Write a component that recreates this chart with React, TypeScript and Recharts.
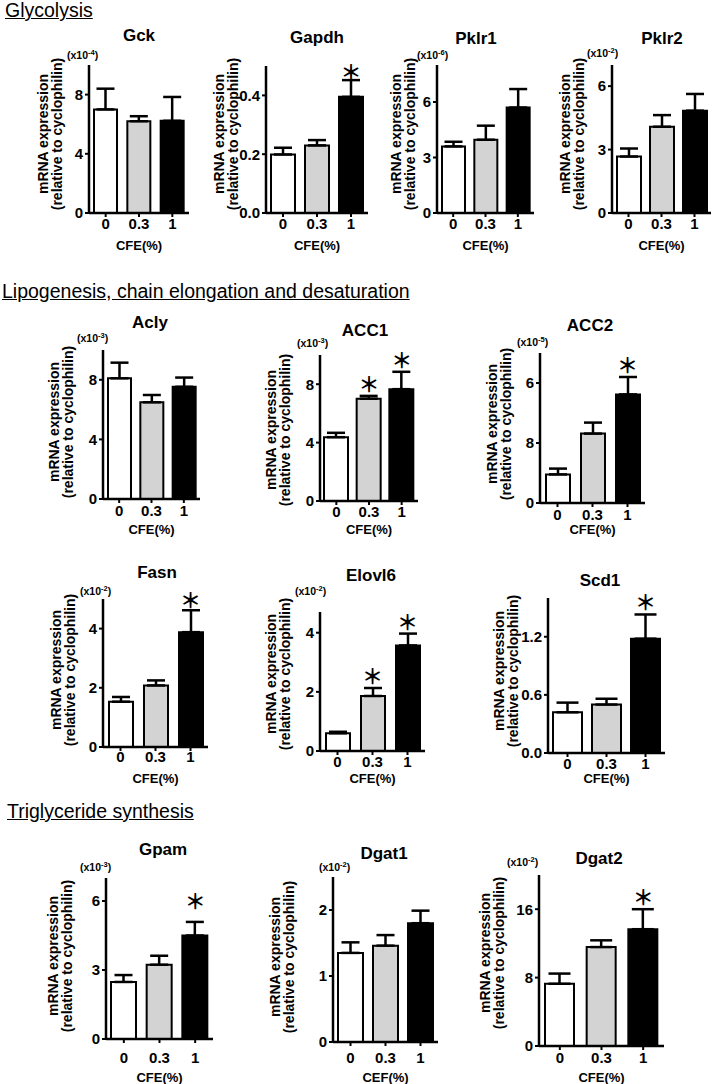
import React from "react";
import { ComposedChart, Bar, Cell, ErrorBar, Scatter, XAxis, YAxis } from "recharts";

// ---- data (mean, SEM, significance) ----
const doses = ["0", "0.3", "1"];
const barFills = ["#ffffff", "#d3d3d3", "#000000"];

// Glycolysis
const gckMean = [7.0, 6.2, 6.23];
const gckSem = [1.4, 0.34, 1.61];
const gapdhMean = [0.199, 0.23, 0.395];
const gapdhSem = [0.023, 0.018, 0.057];
const pklr1Mean = [3.6, 3.96, 5.7];
const pklr1Sem = [0.25, 0.76, 1.0];
const pklr2Mean = [2.67, 4.08, 4.84];
const pklr2Sem = [0.38, 0.55, 0.79];

// Lipogenesis, chain elongation and desaturation
const aclyMean = [8.1, 6.49, 7.53];
const aclySem = [1.05, 0.49, 0.62];
const acc1Mean = [4.37, 7.01, 7.66];
const acc1Sem = [0.3, 0.19, 1.19];
const acc2Mean = [1.43, 3.47, 5.43];
const acc2Sem = [0.29, 0.55, 0.87];
const fasnMean = [1.53, 2.08, 3.88];
const fasnSem = [0.16, 0.17, 0.74];
const elovl6Mean = [0.6, 1.86, 3.57];
const elovl6Sem = [0.05, 0.27, 0.4];
const scd1Mean = [0.42, 0.5, 1.18];
const scd1Sem = [0.1, 0.06, 0.25];

// Triglyceride synthesis
const gpamMean = [2.48, 3.23, 4.5];
const gpamSem = [0.3, 0.39, 0.59];
const dgat1Mean = [1.35, 1.46, 1.8];
const dgat1Sem = [0.16, 0.16, 0.19];
const dgat2Mean = [7.28, 11.57, 13.66];
const dgat2Sem = [1.19, 0.79, 2.34];

const noSig = [false, false, false];
const sigHigh = [false, false, true];
const sigBoth = [false, true, true];

const FONT = "'Liberation Sans', Arial, sans-serif";

interface Panel {
  title: string;
  mean: number[];
  sem: number[];
  sig: boolean[];
  domain: [number, number];
  ticks: number[];
  tickLabels: string[];
  unit?: string;
  xLabel: string;
  // layout (px)
  x0: number;
  top: number;
  zero: number;
  plotW: number;
  barSize: number;
  tickY: number;
  cfeY: number;
  titleX: number;
  titleY: number;
  unitX?: number;
  unitY?: number;
  labelX: number;
  labelY: number;
  starGap?: number;
}

const panels: Panel[] = [
  { title: "Gck", mean: gckMean, sem: gckSem, sig: noSig, domain: [0, 10], ticks: [0, 4, 8], tickLabels: ["0", "4", "8"], unit: "-4", xLabel: "CFE(%)",
    x0: 89, top: 65, zero: 213, plotW: 100, barSize: 23, tickY: 224, cfeY: 245, titleX: 139, titleY: 35, unitX: 67, unitY: 55, labelX: 50, labelY: 134 },
  { title: "Gapdh", mean: gapdhMean, sem: gapdhSem, sig: sigHigh, domain: [0, 0.5], ticks: [0, 0.2, 0.4], tickLabels: ["0.0", "0.2", "0.4"], xLabel: "CFE(%)",
    x0: 266, top: 66, zero: 213, plotW: 102, barSize: 24, tickY: 224, cfeY: 245, titleX: 317, titleY: 37, labelX: 226, labelY: 134, starGap: 9 },
  { title: "Pklr1", mean: pklr1Mean, sem: pklr1Sem, sig: noSig, domain: [0, 8], ticks: [0, 3, 6], tickLabels: ["0", "3", "6"], unit: "-6", xLabel: "CFE(%)",
    x0: 437, top: 65, zero: 213, plotW: 97, barSize: 23, tickY: 224, cfeY: 245, titleX: 476, titleY: 38, unitX: 417, unitY: 55, labelX: 403, labelY: 134 },
  { title: "Pklr2", mean: pklr2Mean, sem: pklr2Sem, sig: noSig, domain: [0, 7], ticks: [0, 3, 6], tickLabels: ["0", "3", "6"], unit: "-2", xLabel: "CFE(%)",
    x0: 612, top: 65, zero: 213, plotW: 99, barSize: 24, tickY: 224, cfeY: 245, titleX: 662, titleY: 38, unitX: 587, unitY: 53, labelX: 572, labelY: 134 },

  { title: "Acly", mean: aclyMean, sem: aclySem, sig: noSig, domain: [0, 10], ticks: [0, 4, 8], tickLabels: ["0", "4", "8"], unit: "-3", xLabel: "CFE(%)",
    x0: 103, top: 350, zero: 499, plotW: 97, barSize: 23, tickY: 511, cfeY: 529, titleX: 150, titleY: 322, unitX: 77, unitY: 338, labelX: 61, labelY: 422 },
  { title: "ACC1", mean: acc1Mean, sem: acc1Sem, sig: sigBoth, domain: [0, 10], ticks: [0, 4, 8], tickLabels: ["0", "4", "8"], unit: "-3", xLabel: "CFE(%)",
    x0: 320, top: 355, zero: 501, plotW: 98, barSize: 24, tickY: 512, cfeY: 529, titleX: 365, titleY: 330, unitX: 297, unitY: 343, labelX: 278, labelY: 430, starGap: 13 },
  { title: "ACC2", mean: acc2Mean, sem: acc2Sem, sig: sigHigh, domain: [0, 7.5], ticks: [0, 3, 6], tickLabels: ["0", "8", "6"], unit: "-5", xLabel: "CFE(%)",
    x0: 540, top: 353, zero: 503, plotW: 105, barSize: 24, tickY: 515, cfeY: 529, titleX: 590, titleY: 325, unitX: 517, unitY: 342, labelX: 499, labelY: 424, starGap: 13 },

  { title: "Fasn", mean: fasnMean, sem: fasnSem, sig: sigHigh, domain: [0, 5], ticks: [0, 2, 4], tickLabels: ["0", "2", "4"], unit: "-2", xLabel: "CFE(%)",
    x0: 103, top: 599, zero: 747, plotW: 105, barSize: 24, tickY: 757, cfeY: 778, titleX: 157, titleY: 572, unitX: 80, unitY: 591, labelX: 63, labelY: 670, starGap: 11 },
  { title: "Elovl6", mean: elovl6Mean, sem: elovl6Sem, sig: sigBoth, domain: [0, 4.7], ticks: [0, 2, 4], tickLabels: ["0", "2", "4"], unit: "-2", xLabel: "CFE(%)",
    x0: 320, top: 612, zero: 751, plotW: 105, barSize: 24, tickY: 762, cfeY: 778, titleX: 371, titleY: 575, unitX: 295, unitY: 591, labelX: 278, labelY: 674, starGap: 13 },
  { title: "Scd1", mean: scd1Mean, sem: scd1Sem, sig: sigHigh, domain: [0, 1.6], ticks: [0, 0.6, 1.2], tickLabels: ["0.0", "0.6", "1.2"], xLabel: "CFE(%)",
    x0: 548, top: 598, zero: 753, plotW: 117, barSize: 29, tickY: 764, cfeY: 778, titleX: 600, titleY: 580, labelX: 506, labelY: 671, starGap: 13 },

  { title: "Gpam", mean: gpamMean, sem: gpamSem, sig: sigHigh, domain: [0, 7], ticks: [0, 3, 6], tickLabels: ["0", "3", "6"], unit: "-3", xLabel: "CFE(%)",
    x0: 106, top: 878, zero: 1039, plotW: 107, barSize: 25, tickY: 1058, cfeY: 1077, titleX: 163, titleY: 849, unitX: 80, unitY: 867, labelX: 60, labelY: 956, starGap: 22 },
  { title: "Dgat1", mean: dgat1Mean, sem: dgat1Sem, sig: noSig, domain: [0, 2.5], ticks: [0, 1, 2], tickLabels: ["0", "1", "2"], unit: "-2", xLabel: "CEF(%)",
    x0: 333, top: 877, zero: 1042, plotW: 105, barSize: 25, tickY: 1058, cfeY: 1077, titleX: 384, titleY: 853, unitX: 319, unitY: 867, labelX: 282, labelY: 957 },
  { title: "Dgat2", mean: dgat2Mean, sem: dgat2Sem, sig: sigHigh, domain: [0, 20], ticks: [0, 8, 16], tickLabels: ["0", "8", "16"], unit: "-2", xLabel: "CFE(%)",
    x0: 539, top: 875, zero: 1046, plotW: 125, barSize: 29, tickY: 1058, cfeY: 1077, titleX: 599, titleY: 858, unitX: 507, unitY: 862, labelX: 492, labelY: 953, starGap: 13 },
];

const headings = [
  { text: "Glycolysis", left: 5, baseline: 17.5 },
  { text: "Lipogenesis, chain elongation and desaturation", left: 2, baseline: 298 },
  { text: "Triglyceride synthesis", left: 7, baseline: 818 },
];

const YW = 40;
const MT = 30; // room above the plot for the asterisks
const MR = 3;
const XH = 50;
const TICK_FS = 15;

function GenePanel({ p }: { p: Panel }) {
  const data = doses.map((d, i) => ({
    dose: d,
    mean: p.mean[i],
    err: [0, p.sem[i]],
    star: p.sig[i] ? p.mean[i] + p.sem[i] : null,
  }));
  const w = YW + p.plotW + MR;
  const h = MT + (p.zero - p.top) + XH;
  const tickMargin = p.tickY - p.zero - 4 - 0.352 * TICK_FS;
  const labelOffset = p.zero + XH - (p.cfeY + 0.358 * 13);
  const gap = p.starGap ?? 13;

  return (
    <>
      <div style={{ position: "absolute", left: p.x0 - YW, top: p.top - MT }}>
        <ComposedChart
          width={w}
          height={h}
          data={data}
          margin={{ top: MT, right: MR, left: 0, bottom: 0 }}
        >
          <XAxis
            dataKey="dose"
            height={XH}
            interval={0}
            axisLine={{ stroke: "#000", strokeWidth: 2.5 }}
            tickLine={{ stroke: "#000", strokeWidth: 2 }}
            tickSize={4}
            tickMargin={tickMargin}
            tick={{ fill: "#000", fontSize: TICK_FS, fontWeight: 700, fontFamily: FONT }}
            label={{
              value: p.xLabel,
              position: "insideBottom",
              offset: labelOffset,
              fill: "#000",
              fontSize: 13,
              fontWeight: 700,
              fontFamily: FONT,
            }}
          />
          <YAxis
            width={YW}
            domain={p.domain}
            ticks={p.ticks}
            interval={0}
            tickFormatter={(_v: number, i: number) => p.tickLabels[i]}
            axisLine={{ stroke: "#000", strokeWidth: 2.5 }}
            tickLine={{ stroke: "#000", strokeWidth: 2 }}
            tickSize={4}
            tickMargin={2}
            tick={{ fill: "#000", fontSize: TICK_FS, fontWeight: 700, fontFamily: FONT }}
          />
          <Bar
            dataKey="mean"
            barSize={p.barSize}
            stroke="#000"
            strokeWidth={2}
            isAnimationActive={false}
          >
            {data.map((_d, i) => (
              <Cell key={i} fill={barFills[i]} />
            ))}
            <ErrorBar
              dataKey="err"
              direction="y"
              width={Math.round(p.barSize * 0.37)}
              stroke="#000"
              strokeWidth={2.5}
              isAnimationActive={false}
            />
          </Bar>
          <Scatter
            dataKey="star"
            isAnimationActive={false}
            shape={(s: any) =>
              s.payload?.star == null || !Number.isFinite(s.cy) ? (
                <g />
              ) : (
                <text
                  x={s.cx}
                  y={s.cy - gap}
                  textAnchor="middle"
                  dominantBaseline="central"
                  fontSize={21}
                  fontWeight={700}
                  fontFamily="'Noto Sans CJK JP', 'DejaVu Sans', sans-serif"
                  fill="#000"
                >
                  ＊
                </text>
              )
            }
          />
        </ComposedChart>
      </div>

      <div
        style={{
          position: "absolute",
          left: p.titleX - 60,
          top: p.titleY - 8.5,
          width: 120,
          textAlign: "center",
          fontSize: 17,
          lineHeight: "17px",
          fontWeight: 700,
          whiteSpace: "nowrap",
        }}
      >
        {p.title}
      </div>

      {p.unit && (
        <div
          style={{
            position: "absolute",
            left: p.unitX,
            top: (p.unitY ?? 0) - 6,
            fontSize: 10.5,
            lineHeight: "12px",
            fontWeight: 700,
            whiteSpace: "nowrap",
          }}
        >
          (x10
          <span style={{ fontSize: 7.5, position: "relative", top: -4 }}>{p.unit}</span>)
        </div>
      )}

      <div
        style={{
          position: "absolute",
          left: p.labelX - 100,
          top: p.labelY - 14,
          width: 200,
          height: 28,
          textAlign: "center",
          fontSize: 14,
          lineHeight: "14px",
          fontWeight: 700,
          whiteSpace: "nowrap",
          transform: "rotate(-90deg)",
          transformOrigin: "50% 50%",
        }}
      >
        mRNA expression
        <br />
        (relative to cyclophilin)
      </div>
    </>
  );
}

export default function App() {
  return (
    <div
      style={{
        position: "absolute",
        left: 0,
        top: 0,
        width: 714,
        height: 1084,
        overflow: "hidden",
        background: "#fff",
        color: "#000",
        fontFamily: FONT,
      }}
    >
      {headings.map((hd) => (
        <div
          key={hd.text}
          style={{
            position: "absolute",
            left: hd.left,
            top: hd.baseline - 14.3,
            fontSize: 19.5,
            lineHeight: "15px",
            textDecoration: "underline",
            whiteSpace: "nowrap",
          }}
        >
          {hd.text}
        </div>
      ))}
      {panels.map((p) => (
        <GenePanel key={p.title} p={p} />
      ))}
    </div>
  );
}
